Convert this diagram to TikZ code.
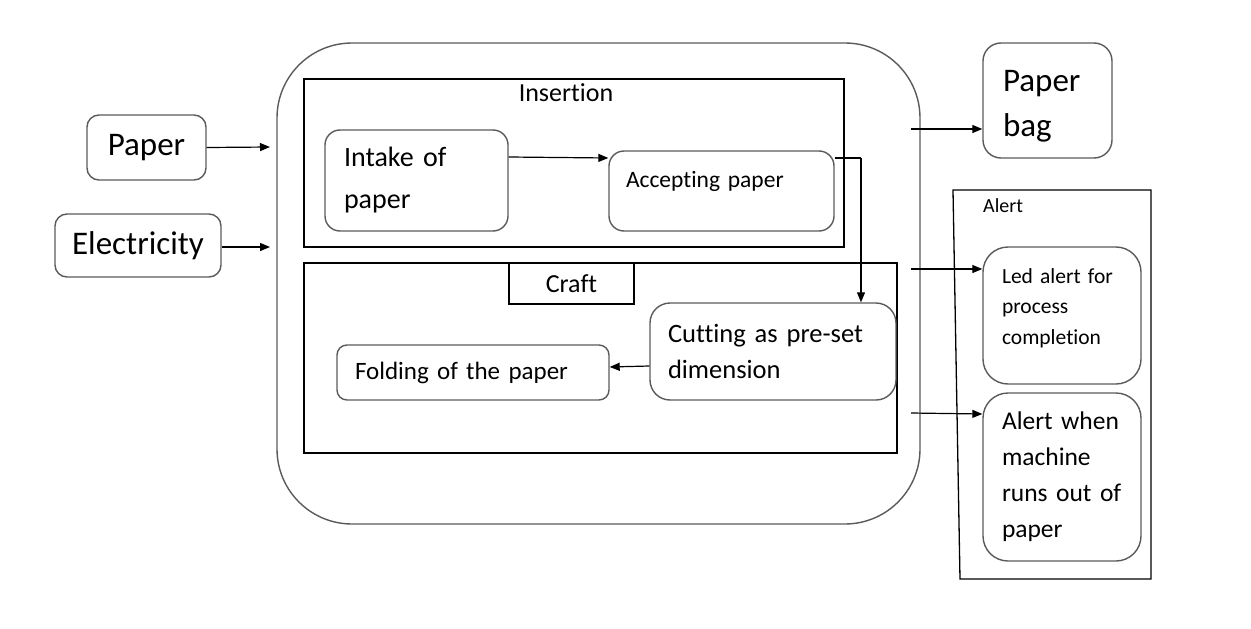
\documentclass[tikz,border=0pt]{standalone}
\usepackage{fontspec}
\setmainfont{Carlito}[Ligatures={NoCommon}]
\usetikzlibrary{arrows.meta}
\definecolor{boxgray}{HTML}{5A5A5A}
\tikzset{
  rbox/.style={draw=boxgray, line width=1.4pt, inner sep=0pt, align=left},
  rect/.style={draw=black, line width=1.3pt, inner sep=0pt},
  arr/.style={draw=black, line width=1.2pt, -{Triangle[length=10pt,width=8pt]}},
  lbl/.style={inner sep=0pt, anchor=base},
}
\newcommand{\fs}[2]{\fontsize{#1}{#2}\selectfont\spaceskip=0.17em plus 0.05em\relax}
\begin{document}
\begin{tikzpicture}[x=1pt,y=-1pt]
\useasboundingbox (0,0) rectangle (1251,629);
% inputs
\node[rbox, rounded corners=12pt, minimum width=119, minimum height=65, font=\fs{33}{40}, align=center] (paper) at (146.5,147.5) {Paper};
\node[rbox, rounded corners=12pt, minimum width=166, minimum height=63, font=\fs{33}{40}, align=center] (elec) at (138,245.5) {Electricity};
% main box
\node[draw=boxgray, line width=1.4pt, rounded corners=75pt, minimum width=643, minimum height=481, inner sep=0pt] (main) at (598.5,283.5) {};
\coordinate (pin) at (270,147);
\coordinate (ein) at (270,247);
\draw[arr] (paper.east) -- (pin);
\draw[arr] (elec.east |- ein) -- (ein);
% insertion
\node[rect, minimum width=540, minimum height=168] (ins) at (574,163) {};
\node[lbl, font=\fs{26}{30}] (inslbl) at (566,101) {Insertion};
\node[rbox, rounded corners=15pt, minimum width=183, minimum height=101, text width=145, font=\fs{28}{42}] (intake) at (416.5,180.5) {Intake of\\paper};
\node[rbox, rounded corners=15pt, minimum width=225, minimum height=80, text width=191, font=\fs{23.5}{30}] (accept) at (721.5,191) {Accepting paper\\[-6pt]\mbox{}};
\draw[arr] (intake.east |- 0,157) -- (accept.west |- 0,158);
% craft
\node[rect, minimum width=593, minimum height=190] (craft) at (600.5,358) {};
\node[rect, minimum width=125, minimum height=41, font=\fs{26}{30}] (craftlbl) at (571.5,283.5) {Craft};
\node[rbox, rounded corners=20pt, minimum width=246, minimum height=97, text width=210, font=\fs{26.5}{36}] (cut) at (773,351.5) {Cutting as pre-set\\dimension};
\node[rbox, rounded corners=10pt, minimum width=272, minimum height=55, text width=236, font=\fs{25}{30}] (fold) at (473,372.5) {Folding of the paper};
\coordinate (c1) at (861,158);
\draw[line width=1.2pt] (accept.east |- c1) -- (c1);
\draw[arr] (c1) -- (c1 |- cut.north);
\draw[arr] (cut.west |- 0,366) -- (fold.east |- 0,367);
% outputs
\node[rbox, rounded corners=18pt, minimum width=129, minimum height=115, text width=89, font=\fs{33}{45}] (bag) at (1047.5,100.5) {\mbox{}\\[-12pt]Paper\\bag};
\coordinate (a1) at (953,190);
\coordinate (a2) at (1151,190);
\coordinate (a3) at (1151,579);
\coordinate (a4) at (960,579);
\draw[line width=1.3pt] (a1) -- (a2) -- (a3) -- (a4) -- cycle;
\node[lbl, anchor=base west, font=\fs{20}{24}] (alertlbl) at (983,212) {Alert};
\node[rbox, rounded corners=25pt, minimum width=158, minimum height=137, text width=120, font=\fs{21.5}{30.5}] (led) at (1062,315.5) {Led alert for\\process\\completion\\[-12pt]\mbox{}};
\node[rbox, rounded corners=25pt, minimum width=158, minimum height=168, text width=120, font=\fs{25.5}{36}] (outp) at (1062,477) {Alert when\\machine\\runs out of\\paper};
\coordinate (o1) at (911,129);
\coordinate (o2) at (911,269);
\coordinate (o3) at (911,413);
\draw[arr] (o1) -- (bag.west |- o1);
\draw[arr] (o2) -- (led.west |- o2);
\draw[arr] (o3) -- (outp.west |- 0,414);
\end{tikzpicture}
\end{document}
